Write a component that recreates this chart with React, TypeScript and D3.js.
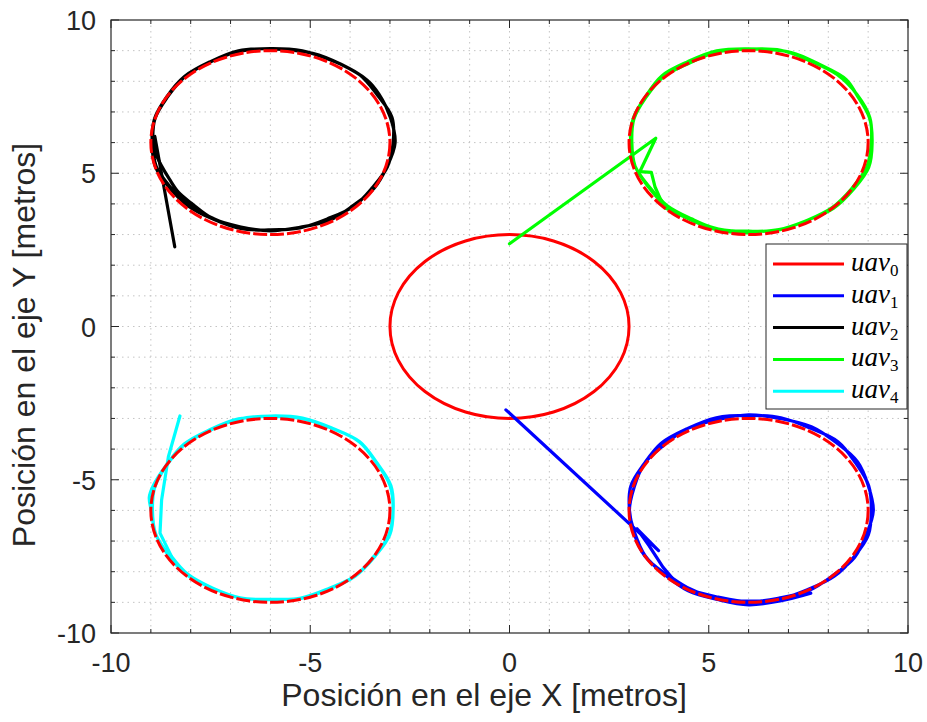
import React from 'react';
import * as d3 from 'd3';

const WIDTH = 927;
const HEIGHT = 722;

// Axis ticks
const majorTicks = [-10, -5, 0, 5, 10];
const minorTicks = [-9, -8, -7, -6, -4, -3, -2, -1, 1, 2, 3, 4, 6, 7, 8, 9];
const gridValues = [-9, -8, -7, -6, -5, -4, -3, -2, -1, 0, 1, 2, 3, 4, 5, 6, 7, 8, 9];

// Legend
const uavLabels = ['0', '1', '2', '3', '4'];
const uavColors = ['#ff0000', '#0000ff', '#000000', '#00ff00', '#00ffff'];

// Leader (uav0) flies the central circle
const leaderCenter: [number, number] = [0, 0];
const leaderRadius = 3;

// Formation reference circles (dashed)
const referenceCenters: [number, number][] = [[6, -6], [-6, 6], [6, 6], [-6, -6]];
const referenceRadius = 3;

// Followers: straight approach legs [x, y] followed by orbit samples [angle deg, radius]
const uav1Approach: [number, number][] = [
  [-0.09, -2.72], [3.74, -7.31], [3.2, -6.6], [3.5, -7.15], [3.7, -7.55], [3.85, -7.85],
];
const uav1Center: [number, number] = [6, -6];
const uav1Orbit: [number, number][] = [
  [229, 2.92], [240, 2.95], [255, 2.99], [270, 2.96], [285, 3.0], [300, 2.98], [315, 3.04],
  [330, 3.05], [345, 3.11], [360, 3.08], [375, 3.12], [390, 3.1], [405, 3.17], [420, 3.1],
  [435, 3.13], [450, 3.1], [465, 3.13], [480, 3.08], [495, 3.1], [510, 3.03], [525, 3.06],
  [540, 2.99], [555, 2.97], [570, 3.0], [585, 2.94], [600, 2.97], [615, 2.93], [630, 2.98],
  [645, 2.96], [660, 3.02], [675, 3.0], [690, 3.07], [705, 3.06], [720, 3.13], [735, 3.11],
  [750, 3.16], [765, 3.12], [780, 3.15], [795, 3.1], [810, 3.12], [825, 3.06], [840, 3.08],
  [855, 3.01], [870, 3.03], [885, 2.97], [900, 2.99], [915, 2.95], [930, 2.99], [945, 2.97],
  [960, 3.03], [975, 3.01], [990, 3.08], [1005, 3.06], [1020, 3.12],
];

const uav2Approach: [number, number][] = [[-8.4, 2.6], [-8.9, 6.2]];
const uav2Center: [number, number] = [-6, 6];
const uav2Orbit: [number, number][] = [
  [185, 2.93], [195, 2.84], [205, 2.8], [215, 2.82], [225, 2.8], [240, 2.87], [255, 2.85],
  [270, 2.88], [285, 2.86], [300, 2.94], [315, 2.92], [330, 3.0], [345, 3.03], [360, 3.13],
  [375, 3.12], [390, 3.15], [400, 3.17], [415, 3.11], [430, 3.1], [450, 3.06], [465, 3.1],
  [480, 3.04], [495, 3.05], [510, 3.0], [525, 3.01], [540, 2.97], [555, 2.99], [570, 2.93],
  [585, 2.92], [600, 2.88], [615, 2.9], [630, 2.85], [645, 2.88], [660, 2.87], [675, 2.95],
  [690, 2.95], [705, 3.04], [720, 3.08], [735, 3.16], [750, 3.1], [765, 3.15], [780, 3.09],
  [795, 3.1], [810, 3.07], [825, 3.08], [840, 3.03], [855, 3.04], [870, 2.98], [885, 3.0],
  [900, 2.95], [915, 2.97], [930, 2.9], [945, 2.89], [960, 2.86], [975, 2.9], [990, 2.85],
];

const uav3Approach: [number, number][] = [
  [0.0, 2.7], [3.67, 6.14], [3.27, 5.05], [3.56, 5.03], [3.65, 4.56], [3.78, 4.18],
];
const uav3Center: [number, number] = [6, 6];
const uav3Orbit: [number, number][] = [
  [226, 2.98], [240, 2.9], [255, 2.92], [270, 2.9], [285, 2.94], [300, 2.93], [315, 3.02],
  [330, 3.04], [345, 3.12], [360, 3.1], [375, 3.14], [390, 3.13], [400, 3.2], [415, 3.11],
  [430, 3.13], [450, 3.06], [465, 3.1], [480, 3.05], [495, 3.08], [510, 2.99], [525, 3.0],
  [540, 2.96], [555, 2.95], [570, 2.88], [585, 2.9], [600, 2.87], [615, 2.93], [630, 2.89],
  [645, 2.95], [660, 2.93], [675, 2.98], [690, 2.99], [705, 3.07], [720, 3.08], [735, 3.15],
  [750, 3.14], [765, 3.14], [780, 3.08], [795, 3.12], [810, 3.05], [825, 3.06], [840, 2.99],
  [855, 3.03], [870, 2.97], [885, 2.98], [900, 2.93], [915, 2.95], [930, 2.9], [945, 2.93],
  [960, 2.91], [975, 2.96], [990, 2.95],
];

const uav4Approach: [number, number][] = [
  [-8.27, -2.92], [-8.56, -4.25], [-8.73, -5.66], [-8.77, -6.74],
];
const uav4Center: [number, number] = [-6, -6];
const uav4Orbit: [number, number][] = [
  [211, 2.9], [225, 2.94], [240, 2.92], [255, 2.95], [270, 2.91], [285, 2.96], [300, 2.94],
  [315, 3.02], [330, 3.02], [345, 3.1], [360, 3.08], [375, 3.11], [390, 3.08], [405, 3.16],
  [420, 3.09], [435, 3.1], [450, 3.07], [465, 3.09], [480, 3.04], [495, 3.06], [510, 3.0],
  [525, 3.05], [532, 3.07], [540, 2.99], [555, 2.98], [570, 2.95], [585, 2.97], [600, 2.92],
  [615, 2.96], [630, 2.9], [645, 2.97], [660, 2.96], [675, 3.02], [690, 3.0], [705, 3.08],
  [720, 3.08], [735, 3.13], [750, 3.09], [765, 3.17], [780, 3.1], [795, 3.12], [810, 3.08],
  [825, 3.08], [840, 3.02], [855, 3.04], [870, 2.99], [885, 3.0], [900, 2.96], [915, 2.98],
  [930, 2.93], [945, 2.96], [960, 2.93],
];

const followers = [
  { approach: uav1Approach, center: uav1Center, orbit: uav1Orbit, color: uavColors[1] },
  { approach: uav2Approach, center: uav2Center, orbit: uav2Orbit, color: uavColors[2] },
  { approach: uav3Approach, center: uav3Center, orbit: uav3Orbit, color: uavColors[3] },
  { approach: uav4Approach, center: uav4Center, orbit: uav4Orbit, color: uavColors[4] },
];

const plot = { left: 111, right: 908, top: 20, bottom: 633 };
const axisColor = '#262626';
const sans = '"Liberation Sans", Arial, Helvetica, sans-serif';
const serif = '"Liberation Serif", "Times New Roman", serif';

export default function App() {
  const x = d3.scaleLinear().domain([-10, 10]).range([plot.left, plot.right]);
  const y = d3.scaleLinear().domain([-10, 10]).range([plot.bottom, plot.top]);

  const toXY = (c: [number, number], [deg, r]: [number, number]): [number, number] => [
    c[0] + r * Math.cos((deg * Math.PI) / 180),
    c[1] + r * Math.sin((deg * Math.PI) / 180),
  ];

  const straight = d3
    .line<[number, number]>()
    .x((d) => x(d[0]))
    .y((d) => y(d[1]));
  const smooth = d3
    .line<[number, number]>()
    .x((d) => x(d[0]))
    .y((d) => y(d[1]))
    .curve(d3.curveCatmullRom.alpha(0.5));

  const rx = x(referenceRadius) - x(0);
  const ry = y(0) - y(referenceRadius);

  const legend = { x: 766, y: 244, w: 141, h: 165 };
  const entryY = (i: number) => 264 + i * 31.8;

  return (
    <svg
      width={WIDTH}
      height={HEIGHT}
      style={{ position: 'absolute', left: 0, top: 0, background: '#fff' }}
    >
      <rect x={0} y={0} width={WIDTH} height={HEIGHT} fill="#fff" />
      {/* dotted grid */}
      <g stroke="#c4c4c4" strokeWidth={1} strokeDasharray="1.5 4">
        {gridValues.map((v) => (
          <line key={'gx' + v} x1={x(v)} x2={x(v)} y1={plot.top} y2={plot.bottom} />
        ))}
        {gridValues.map((v) => (
          <line key={'gy' + v} x1={plot.left} x2={plot.right} y1={y(v)} y2={y(v)} />
        ))}
      </g>

      {/* leader circle */}
      <ellipse
        cx={x(leaderCenter[0])}
        cy={y(leaderCenter[1])}
        rx={x(leaderRadius) - x(0)}
        ry={y(0) - y(leaderRadius)}
        fill="none"
        stroke={uavColors[0]}
        strokeWidth={3}
      />

      {/* follower trajectories */}
      {followers.map((f, i) => {
        const orbitPts = f.orbit.map((p) => toXY(f.center, p));
        const leg = [...f.approach, orbitPts[0]];
        return (
          <g key={'f' + i} fill="none" stroke={f.color} strokeWidth={3.2} strokeLinejoin="round" strokeLinecap="round">
            <path d={straight(leg) || ''} />
            <path d={smooth(orbitPts) || ''} />
          </g>
        );
      })}

      {/* dashed formation references */}
      {referenceCenters.map((c, i) => (
        <ellipse
          key={'ref' + i}
          cx={x(c[0])}
          cy={y(c[1])}
          rx={rx}
          ry={ry}
          fill="none"
          stroke="#ff0000"
          strokeWidth={3}
          strokeDasharray="14 3"
        />
      ))}

      {/* axes box */}
      <rect
        x={plot.left}
        y={plot.top}
        width={plot.right - plot.left}
        height={plot.bottom - plot.top}
        fill="none"
        stroke={axisColor}
        strokeWidth={1.2}
      />
      <g stroke={axisColor} strokeWidth={1}>
        {majorTicks.map((v) => (
          <g key={'mt' + v}>
            <line x1={x(v)} x2={x(v)} y1={plot.bottom} y2={plot.bottom - 8} />
            <line x1={x(v)} x2={x(v)} y1={plot.top} y2={plot.top + 8} />
            <line x1={plot.left} x2={plot.left + 8} y1={y(v)} y2={y(v)} />
            <line x1={plot.right} x2={plot.right - 8} y1={y(v)} y2={y(v)} />
          </g>
        ))}
        {minorTicks.map((v) => (
          <g key={'nt' + v}>
            <line x1={x(v)} x2={x(v)} y1={plot.bottom} y2={plot.bottom - 4} />
            <line x1={x(v)} x2={x(v)} y1={plot.top} y2={plot.top + 4} />
            <line x1={plot.left} x2={plot.left + 4} y1={y(v)} y2={y(v)} />
            <line x1={plot.right} x2={plot.right - 4} y1={y(v)} y2={y(v)} />
          </g>
        ))}
      </g>

      {/* tick labels */}
      <g fontFamily={sans} fontSize={27} fill={axisColor}>
        {majorTicks.map((v) => (
          <text key={'xl' + v} x={x(v)} y={672} textAnchor="middle">
            {v}
          </text>
        ))}
        {majorTicks.map((v) => (
          <text key={'yl' + v} x={96} y={y(v) + 10} textAnchor="end">
            {v}
          </text>
        ))}
      </g>

      {/* axis titles */}
      <text x={484} y={706} textAnchor="middle" fontFamily={sans} fontSize={32} fill={axisColor}>
        Posición en el eje X [metros]
      </text>
      <text
        transform="translate(35,345) rotate(-90)"
        textAnchor="middle"
        fontFamily={sans}
        fontSize={32}
        fill={axisColor}
      >
        Posición en el eje Y [metros]
      </text>

      {/* legend */}
      <rect x={legend.x} y={legend.y} width={legend.w} height={legend.h} fill="#fff" stroke={axisColor} strokeWidth={1} />
      {uavLabels.map((lab, i) => (
        <g key={'lg' + i}>
          <line x1={773} x2={844} y1={entryY(i)} y2={entryY(i)} stroke={uavColors[i]} strokeWidth={3} />
          <text x={851} y={entryY(i) + 7} fontFamily={serif} fontSize={27} fill="#000">
            <tspan fontStyle="italic">uav</tspan>
            <tspan fontSize={17} dy={5}>{lab}</tspan>
          </text>
        </g>
      ))}
    </svg>
  );
}
